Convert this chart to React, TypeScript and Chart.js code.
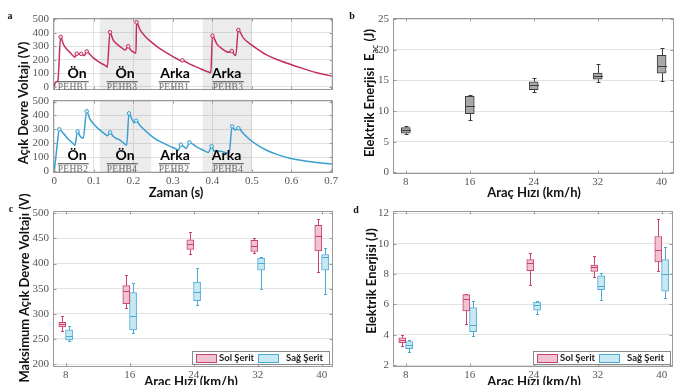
import React, { useEffect, useRef } from "react";
import { Chart, registerables } from "chart.js";

Chart.register(...registerables);

// ---------------- Panel a : open-circuit voltage vs time ----------------
const timeTicks = [0, 0.1, 0.2, 0.3, 0.4, 0.5, 0.6, 0.7];
const voltTicks = [0, 100, 200, 300, 400, 500];
const shadeStarts = [0.115, 0.375];
const shadeEnds = [0.245, 0.5];

const topTime = [
  0, 0.002, 0.006, 0.009, 0.016, 0.0227, 0.031, 0.0396, 0.048, 0.052, 0.0566, 0.062, 0.068, 0.072,
  0.076, 0.082, 0.09, 0.0987, 0.1156, 0.1325, 0.134, 0.1409, 0.149, 0.158, 0.17, 0.179, 0.187,
  0.193, 0.204, 0.2065, 0.208, 0.217, 0.229, 0.242, 0.259, 0.276, 0.293, 0.31, 0.32, 0.324, 0.343,
  0.356, 0.369, 0.39, 0.396, 0.4, 0.411, 0.423, 0.436, 0.443, 0.449, 0.455, 0.459, 0.4655, 0.478,
  0.495, 0.512, 0.537, 0.563, 0.596, 0.63, 0.664, 0.702,
];
const topVolt = [
  0, 30, 38, 45, 369, 317, 280, 255, 228, 220, 245, 240, 244, 238,
  232, 262, 240, 214, 180, 150, 145, 404, 345, 318, 290, 272, 300,
  272, 252, 250, 477, 422, 376, 340, 300, 266, 236, 208, 194, 196, 168,
  152, 135, 110, 105, 378, 318, 284, 260, 256, 265, 240, 232, 420, 362,
  318, 283, 237, 203, 168, 135, 105, 80,
];

const bottomTime = [
  0, 0.006, 0.0127, 0.0228, 0.0354, 0.048, 0.052, 0.059, 0.065, 0.073, 0.082, 0.09, 0.103,
  0.1156, 0.128, 0.134, 0.141, 0.149, 0.158, 0.163, 0.175, 0.183, 0.189, 0.196, 0.2017, 0.207,
  0.2167, 0.229, 0.242, 0.259, 0.276, 0.293, 0.31, 0.314, 0.32, 0.3306, 0.334, 0.3417, 0.36,
  0.377, 0.39, 0.398, 0.404, 0.42, 0.436, 0.442, 0.45, 0.457, 0.4655, 0.478, 0.495, 0.512,
  0.537, 0.563, 0.596, 0.63, 0.664, 0.702,
];
const bottomVolt = [
  0, 155, 300, 271, 229, 197, 185, 285, 252, 236, 430, 375, 328,
  294, 266, 254, 278, 250, 232, 228, 203, 187, 415, 375, 348, 362,
  328, 294, 260, 225, 201, 178, 156, 150, 190, 168, 162, 206, 174,
  150, 134, 178, 145, 142, 130, 127, 322, 295, 308, 271, 225, 190,
  150, 120, 92, 74, 62, 51,
];

const topLabels = ["Ön", "Ön", "Arka", "Arka"];
const topSensors = ["PEHB1", "PEHB3", "PEHB1", "PEHB3"];
const bottomLabels = ["Ön", "Ön", "Arka", "Arka"];
const bottomSensors = ["PEHB2", "PEHB4", "PEHB2", "PEHB4"];

// ---------------- Panels b, c, d : box plots vs vehicle speed ----------------
const speeds = [8, 16, 24, 32, 40];

// b : electrical energy E_ac (J)
const energyTicks = [0, 5, 10, 15, 20, 25];
const energyMin = [6.2, 8.6, 13.1, 14.7, 14.9];
const energyQ1 = [6.4, 9.6, 13.5, 15.2, 16.2];
const energyMed = [6.9, 10.9, 14.2, 15.8, 17.4];
const energyQ3 = [7.3, 12.4, 14.8, 16.2, 19.1];
const energyMax = [7.5, 12.7, 15.4, 17.7, 20.3];

// c : maximum open-circuit voltage (V)
const maxVoltTicks = [200, 250, 300, 350, 400, 450, 500];
const solVoltMin = [266, 311, 418, 421, 384];
const solVoltQ1 = [274, 320, 428, 424, 425];
const solVoltMed = [279, 346, 439, 435, 454];
const solVoltQ3 = [283, 356, 447, 446, 476];
const solVoltMax = [295, 377, 462, 451, 488];
const sagVoltMin = [245, 261, 317, 350, 339];
const sagVoltQ1 = [248, 268, 326, 387, 387];
const sagVoltMed = [255, 295, 344, 402, 412];
const sagVoltQ3 = [268, 342, 363, 411, 418];
const sagVoltMax = [276, 362, 392, 412, 431];

// d : electrical energy (J)
const laneEnergyTicks = [2, 4, 6, 8, 10, 12];
const solEnMin = [3.25, 4.7, 7.29, 7.83, 8.22];
const solEnQ1 = [3.47, 5.56, 8.22, 8.16, 8.8];
const solEnMed = [3.66, 6.32, 8.74, 8.44, 9.6];
const solEnQ3 = [3.79, 6.64, 8.95, 8.59, 10.47];
const solEnMax = [3.99, 6.69, 9.39, 9.17, 11.61];
const sagEnMin = [2.86, 3.94, 5.35, 6.28, 6.43];
const sagEnQ1 = [3.08, 4.2, 5.61, 6.97, 6.86];
const sagEnMed = [3.3, 4.66, 5.95, 7.23, 8.0];
const sagEnQ3 = [3.55, 5.78, 6.15, 7.87, 8.95];
const sagEnMax = [3.68, 6.21, 6.25, 8.09, 9.78];

const legendNames = ["Sol Şerit", "Sağ Şerit"];

// ---------------- styles ----------------
const RED = "#c2305e";
const BLUE = "#3a9fd0";
const PINK_EDGE = "#c8436f";
const PINK_FILL = "#efc3d2";
const CYAN_EDGE = "#4aaad2";
const CYAN_FILL = "#c8e8f4";
const GREY_EDGE = "#3c3c3c";
const GREY_FILL = "#a8a8a8";
const GRID = "#e3e3e3";
const FRAME = "#9a9a9a";
const TICK_COLOR = "#555";
const tickFont = { family: "'Liberation Serif', 'DejaVu Serif', serif", size: 11 };
const PAD = 8;
const YW = 40;

type Rect = { l: number; r: number; t: number; b: number };

const framePlugin = {
  id: "frame",
  afterDraw(chart: any) {
    const { ctx, chartArea } = chart;
    const { left, top, right, bottom } = chartArea;
    const L = Math.round(left) + 0.5, T = Math.round(top) + 0.5;
    const R = Math.round(right) - 0.5, B = Math.round(bottom) - 0.5;
    ctx.save();
    ctx.strokeStyle = FRAME;
    ctx.lineWidth = 1;
    ctx.strokeRect(L, T, R - L, B - T);
    ctx.beginPath();
    const xs = chart.scales.x, ys = chart.scales.y;
    xs.ticks.forEach((tk: any) => {
      const p = Math.round(xs.getPixelForValue(tk.value)) + 0.5;
      ctx.moveTo(p, B); ctx.lineTo(p, B - 3);
      ctx.moveTo(p, T); ctx.lineTo(p, T + 3);
    });
    ys.ticks.forEach((tk: any) => {
      const p = Math.round(ys.getPixelForValue(tk.value)) + 0.5;
      ctx.moveTo(L, p); ctx.lineTo(L + 3, p);
      ctx.moveTo(R, p); ctx.lineTo(R - 3, p);
    });
    ctx.stroke();
    ctx.restore();
  },
};

const shadePlugin = {
  id: "shade",
  beforeDatasetsDraw(chart: any) {
    const { ctx, chartArea } = chart;
    const xs = chart.scales.x;
    ctx.save();
    ctx.fillStyle = "rgba(0,0,0,0.075)";
    shadeStarts.forEach((s, i) => {
      const a = xs.getPixelForValue(s), b = xs.getPixelForValue(shadeEnds[i]);
      ctx.fillRect(a, chartArea.top, b - a, chartArea.bottom - chartArea.top);
    });
    ctx.restore();
  },
};

function xAxis(min: number, max: number, ticks: number[], h: number, showLabels: boolean, grid: boolean) {
  return {
    type: "linear",
    min,
    max,
    offset: false,
    afterBuildTicks: (s: any) => { s.ticks = ticks.map((v) => ({ value: v })); },
    afterFit: (s: any) => { s.height = h; },
    ticks: {
      display: showLabels, padding: 2, font: tickFont, color: TICK_COLOR,
      maxRotation: 0, autoSkip: false, callback: (v: number) => String(v),
    },
    grid: { display: true, offset: false, drawTicks: false, color: grid ? GRID : "rgba(0,0,0,0)" },
    border: { display: false },
  };
}

function yAxis(min: number, max: number, ticks: number[]) {
  return {
    type: "linear",
    min,
    max,
    afterBuildTicks: (s: any) => { s.ticks = ticks.map((v) => ({ value: v })); },
    afterFit: (s: any) => { s.width = YW; },
    ticks: { padding: 4, font: tickFont, color: TICK_COLOR, autoSkip: false, callback: (v: number) => String(v) },
    grid: { display: true, drawTicks: false, color: GRID },
    border: { display: false },
  };
}

function baseOptions(scales: any) {
  return {
    responsive: false,
    animation: false,
    devicePixelRatio: 1,
    layout: { padding: PAD },
    events: [],
    plugins: { legend: { display: false }, tooltip: { enabled: false } },
    scales,
  };
}

function lineConfig(times: number[], volts: number[], color: string, fill: string, yMin: number, yMax: number, xh: number, showX: boolean) {
  const peak = volts.map((v, i) => i > 0 && i < volts.length - 1 && v > volts[i - 1] && v > volts[i + 1]);
  return {
    type: "line",
    data: {
      datasets: [
        {
          data: times.map((t, i) => ({ x: t, y: volts[i] })),
          borderColor: color,
          borderWidth: 1.5,
          cubicInterpolationMode: "monotone",
          pointRadius: (c: any) => (peak[c.dataIndex] ? 1.8 : 0),
          pointBackgroundColor: fill,
          pointBorderColor: color,
          pointBorderWidth: 1,
          fill: false,
        },
      ],
    },
    options: baseOptions({
      x: xAxis(-0.0033, 0.705, timeTicks, xh, showX, true),
      y: yAxis(yMin, yMax, voltTicks),
    }),
    plugins: [shadePlugin, framePlugin],
  };
}

type BoxSeries = {
  min: number[]; q1: number[]; med: number[]; q3: number[]; max: number[];
  offset: number; fill: string; edge: string;
};

function boxConfig(series: BoxSeries[], xMin: number, xMax: number, yMin: number, yMax: number, yTicks: number[], bw: number, cap: number) {
  const whiskers = {
    id: "whiskers",
    afterDatasetsDraw(chart: any) {
      const { ctx } = chart;
      const xs = chart.scales.x, ys = chart.scales.y;
      ctx.save();
      ctx.lineWidth = 1;
      series.forEach((s) => {
        ctx.strokeStyle = s.edge;
        speeds.forEach((sp, i) => {
          const cx = Math.round(xs.getPixelForValue(sp + s.offset)) + 0.5;
          const yHi = Math.round(ys.getPixelForValue(s.max[i])) + 0.5;
          const yQ3 = ys.getPixelForValue(s.q3[i]);
          const yQ1 = ys.getPixelForValue(s.q1[i]);
          const yLo = Math.round(ys.getPixelForValue(s.min[i])) + 0.5;
          const yMd = Math.round(ys.getPixelForValue(s.med[i])) + 0.5;
          ctx.beginPath();
          ctx.moveTo(cx, yHi); ctx.lineTo(cx, yQ3);
          ctx.moveTo(cx, yQ1); ctx.lineTo(cx, yLo);
          ctx.moveTo(cx - cap / 2, yHi); ctx.lineTo(cx + cap / 2, yHi);
          ctx.moveTo(cx - cap / 2, yLo); ctx.lineTo(cx + cap / 2, yLo);
          ctx.moveTo(cx - bw / 2, yMd); ctx.lineTo(cx + bw / 2, yMd);
          ctx.stroke();
        });
      });
      ctx.restore();
    },
  };
  return {
    type: "bar",
    data: {
      datasets: series.map((s) => ({
        data: speeds.map((sp, i) => ({ x: sp + s.offset, y: [s.q1[i], s.q3[i]] })),
        backgroundColor: s.fill,
        borderColor: s.edge,
        borderWidth: 1,
        borderSkipped: false,
        barThickness: bw,
        grouped: false,
      })),
    },
    options: baseOptions({
      x: xAxis(xMin, xMax, speeds, 16, true, false),
      y: yAxis(yMin, yMax, yTicks),
    }),
    plugins: [whiskers, framePlugin],
  };
}

function ChartBox({ area, xh, build }: { area: Rect; xh: number; build: () => any }) {
  const ref = useRef<HTMLCanvasElement>(null);
  const left = area.l - PAD - YW;
  const top = area.t - PAD;
  const width = area.r + PAD - left;
  const height = area.b + xh + PAD - top;
  useEffect(() => {
    const chart = new Chart(ref.current as HTMLCanvasElement, build());
    return () => chart.destroy();
  }, []);
  return (
    <canvas
      ref={ref}
      width={width}
      height={height}
      style={{ position: "absolute", left, top, width, height }}
    />
  );
}

function Txt(props: { x: number; y: number; rot?: boolean; style?: React.CSSProperties; children: any }) {
  return (
    <div
      style={{
        position: "absolute",
        left: props.x,
        top: props.y,
        transform: `translate(-50%,-50%)${props.rot ? " rotate(-90deg)" : ""}`,
        whiteSpace: "nowrap",
        lineHeight: 1,
        ...props.style,
      }}
    >
      {props.children}
    </div>
  );
}

const titleStyle: React.CSSProperties = {
  fontFamily: "Lato, 'Open Sans', sans-serif",
  fontWeight: 700,
  fontSize: 13,
  color: "#111",
};
const panelStyle: React.CSSProperties = {
  fontFamily: "'Liberation Serif', serif",
  fontWeight: 700,
  fontSize: 10,
  color: "#111",
};
const markStyle: React.CSSProperties = {
  fontFamily: "Lato, 'Open Sans', sans-serif",
  fontWeight: 700,
  fontSize: 14,
  color: "#000",
};
const sensorStyle: React.CSSProperties = {
  fontFamily: "'Liberation Serif', serif",
  fontSize: 9.5,
  color: "#666",
  borderTop: "1px solid #444",
  paddingTop: 1,
  letterSpacing: 0.3,
};

function Legend({ x, y }: { x: number; y: number }) {
  const sw = (fill: string, edge: string, left: number) => (
    <div style={{ position: "absolute", left, top: 2, width: 19, height: 7, background: fill, border: `1px solid ${edge}` }} />
  );
  const lt = (text: string, left: number) => (
    <div style={{ position: "absolute", left, top: 0, lineHeight: "12px", fontFamily: "Lato, 'Open Sans', sans-serif", fontWeight: 700, fontSize: 9.5, color: "#222", whiteSpace: "nowrap" }}>{text}</div>
  );
  return (
    <div style={{ position: "absolute", left: x, top: y, width: 136, height: 12, border: "1px solid #8a8a8a", background: "#fff" }}>
      {sw(PINK_FILL, PINK_EDGE, 3)}
      {lt(legendNames[0], 26)}
      {sw(CYAN_FILL, CYAN_EDGE, 65)}
      {lt(legendNames[1], 93)}
    </div>
  );
}

const A1: Rect = { l: 53, r: 333, t: 15, b: 93 };
const A2: Rect = { l: 53, r: 333, t: 97, b: 173 };
const B: Rect = { l: 393, r: 674, t: 15, b: 174 };
const C: Rect = { l: 53, r: 333, t: 208, b: 367 };
const D: Rect = { l: 393, r: 673, t: 208, b: 367 };

const markX = [77, 125, 175, 226.5];
const sensorX = [73, 122, 174, 228];

export default function App() {
  return (
    <div style={{ position: "absolute", left: 0, top: 0, width: 696, height: 385, overflow: "hidden", background: "#fff" }}>
      <ChartBox area={A1} xh={0} build={() => lineConfig(topTime, topVolt, RED, "#f4d6e0", -25.5, 511.7, 0, false)} />
      <ChartBox area={A2} xh={16} build={() => lineConfig(bottomTime, bottomVolt, BLUE, "#d5eef8", -13.9, 513.9, 16, true)} />
      <ChartBox
        area={B}
        xh={16}
        build={() =>
          boxConfig(
            [{ min: energyMin, q1: energyQ1, med: energyMed, q3: energyQ3, max: energyMax, offset: 0, fill: GREY_FILL, edge: GREY_EDGE }],
            6.4, 41.55, -0.27, 25.27, energyTicks, 9, 4
          )
        }
      />
      <ChartBox
        area={C}
        xh={16}
        build={() =>
          boxConfig(
            [
              { min: solVoltMin, q1: solVoltQ1, med: solVoltMed, q3: solVoltQ3, max: solVoltMax, offset: -0.43, fill: PINK_FILL, edge: PINK_EDGE },
              { min: sagVoltMin, q1: sagVoltQ1, med: sagVoltMed, q3: sagVoltQ3, max: sagVoltMax, offset: 0.42, fill: CYAN_FILL, edge: CYAN_EDGE },
            ],
            6.41, 41.41, 194.1, 505.3, maxVoltTicks, 7, 3
          )
        }
      />
      <ChartBox
        area={D}
        xh={16}
        build={() =>
          boxConfig(
            [
              { min: solEnMin, q1: solEnQ1, med: solEnMed, q3: solEnQ3, max: solEnMax, offset: -0.43, fill: PINK_FILL, edge: PINK_EDGE },
              { min: sagEnMin, q1: sagEnQ1, med: sagEnMed, q3: sagEnQ3, max: sagEnMax, offset: 0.42, fill: CYAN_FILL, edge: CYAN_EDGE },
            ],
            6.41, 41.41, 1.87, 12.175, laneEnergyTicks, 7, 3
          )
        }
      />

      {/* panel a annotations */}
      {topLabels.map((s, i) => (
        <Txt key={"tl" + i} x={markX[i]} y={73} style={markStyle}>{s}</Txt>
      ))}
      {topSensors.map((s, i) => (
        <Txt key={"ts" + i} x={sensorX[i]} y={87} style={sensorStyle}>{s}</Txt>
      ))}
      {bottomLabels.map((s, i) => (
        <Txt key={"bl" + i} x={markX[i]} y={155} style={markStyle}>{s}</Txt>
      ))}
      {bottomSensors.map((s, i) => (
        <Txt key={"bs" + i} x={sensorX[i]} y={168.5} style={sensorStyle}>{s}</Txt>
      ))}

      {/* panel letters */}
      <Txt x={10} y={16} style={panelStyle}>a</Txt>
      <Txt x={352} y={16} style={panelStyle}>b</Txt>
      <Txt x={11} y={209} style={panelStyle}>c</Txt>
      <Txt x={356} y={210} style={panelStyle}>d</Txt>

      {/* axis titles */}
      <Txt x={23} y={103} rot style={titleStyle}>Açık Devre Voltajı (V)</Txt>
      <Txt x={176} y={192} style={titleStyle}>Zaman (s)</Txt>
      <Txt x={371} y={93} rot style={titleStyle}>
        Elektrik Enerjisi&nbsp; E<sub style={{ fontSize: 9, fontWeight: 400 }}>ac</sub> (J)
      </Txt>
      <Txt x={534} y={192} style={titleStyle}>Araç Hızı (km/h)</Txt>
      <Txt x={23.5} y={288} rot style={titleStyle}>Maksimum Açık Devre Voltajı (V)</Txt>
      <Txt x={191} y={381} style={titleStyle}>Araç Hızı (km/h)</Txt>
      <Txt x={371} y={281} rot style={titleStyle}>Elektrik Enerjisi (J)</Txt>
      <Txt x={534} y={381} style={titleStyle}>Araç Hızı (km/h)</Txt>

      <Legend x={192} y={351} />
      <Legend x={533} y={351} />
    </div>
  );
}
